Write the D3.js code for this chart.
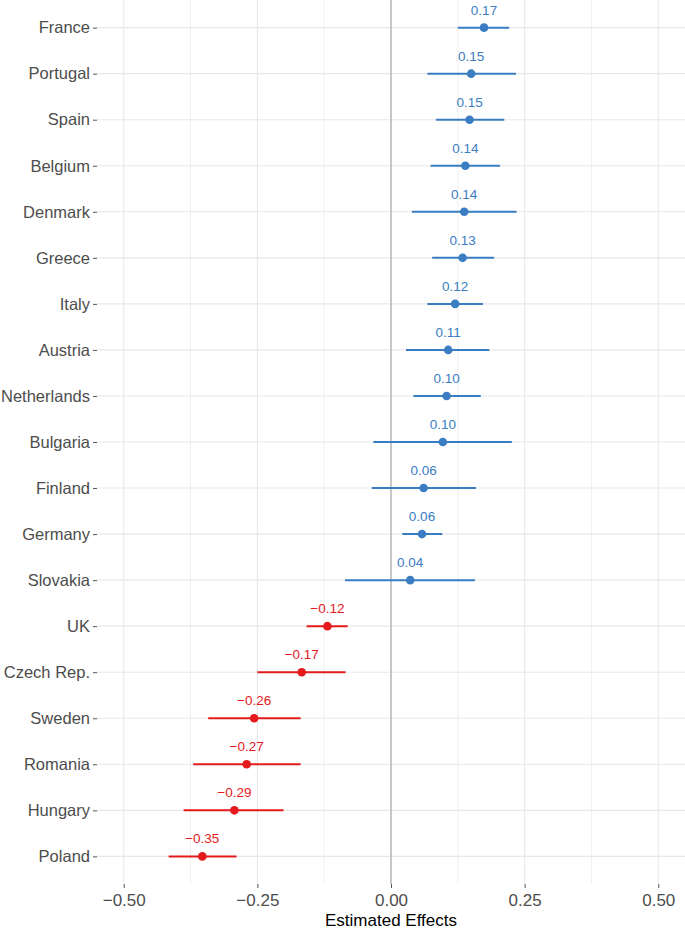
<!DOCTYPE html>
<html><head><meta charset="utf-8">
<script src="https://cdn.jsdelivr.net/npm/d3@7"></script>
<style>body{margin:0;background:#fff}svg{display:block}text{font-family:"Liberation Sans",Arial,Helvetica,sans-serif}</style>
</head><body>
<script>
const countries = ["France","Portugal","Spain","Belgium","Denmark","Greece","Italy","Austria","Netherlands","Bulgaria","Finland","Germany","Slovakia","UK","Czech Rep.","Sweden","Romania","Hungary","Poland"];
const estimates = [0.174,0.150,0.147,0.139,0.137,0.134,0.120,0.107,0.104,0.097,0.061,0.058,0.036,-0.119,-0.167,-0.256,-0.270,-0.293,-0.353];
const lower = [0.125,0.068,0.084,0.074,0.039,0.077,0.068,0.028,0.042,-0.033,-0.036,0.021,-0.086,-0.158,-0.250,-0.342,-0.370,-0.388,-0.416];
const upper = [0.221,0.234,0.212,0.204,0.235,0.193,0.172,0.184,0.168,0.226,0.159,0.096,0.157,-0.081,-0.085,-0.169,-0.169,-0.201,-0.289];
const labels = ["0.17","0.15","0.15","0.14","0.14","0.13","0.12","0.11","0.10","0.10","0.06","0.06","0.04","−0.12","−0.17","−0.26","−0.27","−0.29","−0.35"];
const xTicks = [-0.5,-0.25,0,0.25,0.5];
const xTickLabels = ["−0.50","−0.25","0.00","0.25","0.50"];
const xMinor = [-0.375,-0.125,0.125,0.375];

const W=685,H=930;
const pL=97,pR=685,pT=0,pB=884;
const svg=d3.select("body").append("svg").attr("width",W).attr("height",H);
const x=d3.scaleLinear().domain([-0.55,0.55]).range([pL,pR]);
const y=d3.scalePoint().domain(countries).range([pT,pB]).padding(0.6);
const blue="#3a7dc2", red="#e41a1c";
const col=i=>estimates[i]>=0?blue:red;

// grid
svg.append("g").selectAll("line").data(xMinor).join("line")
  .attr("x1",d=>x(d)).attr("x2",d=>x(d)).attr("y1",pT).attr("y2",pB)
  .attr("stroke","#f0f0f0").attr("stroke-width",1);
svg.append("g").selectAll("line").data(xTicks).join("line")
  .attr("x1",d=>x(d)).attr("x2",d=>x(d)).attr("y1",pT).attr("y2",pB)
  .attr("stroke","#e8e8e8").attr("stroke-width",1.1);
svg.append("g").selectAll("line").data(countries).join("line")
  .attr("x1",pL).attr("x2",pR).attr("y1",d=>y(d)).attr("y2",d=>y(d))
  .attr("stroke","#e8e8e8").attr("stroke-width",1.1);
// zero line
svg.append("line").attr("x1",x(0)).attr("x2",x(0)).attr("y1",pT).attr("y2",pB)
  .attr("stroke","#aaaaaa").attr("stroke-width",1.2);

// axes
const xAxis=d3.axisBottom(x).tickValues(xTicks).tickFormat((d,i)=>xTickLabels[i]).tickSize(4).tickPadding(6);
const gx=svg.append("g").attr("transform",`translate(0,${pB})`).call(xAxis);
gx.select(".domain").remove();
gx.selectAll(".tick line").attr("stroke","#555");
gx.selectAll(".tick text").attr("fill","#4d4d4d").style("font-size","17px").style("font-family","'Liberation Sans',Arial,sans-serif");

const yAxis=d3.axisLeft(y).tickSize(4).tickPadding(3);
const gy=svg.append("g").attr("transform",`translate(${pL},0)`).call(yAxis);
gy.select(".domain").remove();
gy.selectAll(".tick line").attr("stroke","#555");
gy.selectAll(".tick text").attr("fill","#4d4d4d").style("font-size","16.5px").style("font-family","'Liberation Sans',Arial,sans-serif");

svg.append("text").attr("x",(pL+pR)/2).attr("y",926).attr("text-anchor","middle")
  .attr("fill","#000").style("font-size","17px").text("Estimated Effects");

// error bars
const idx=d3.range(countries.length);
svg.append("g").selectAll("line").data(idx).join("line")
  .attr("x1",i=>x(lower[i])).attr("x2",i=>x(upper[i]))
  .attr("y1",i=>y(countries[i])).attr("y2",i=>y(countries[i]))
  .attr("stroke",col).attr("stroke-width",2);
svg.append("g").selectAll("circle").data(idx).join("circle")
  .attr("cx",i=>x(estimates[i])).attr("cy",i=>y(countries[i])).attr("r",4.3)
  .attr("fill",col);
svg.append("g").selectAll("text").data(idx).join("text")
  .attr("x",i=>x(estimates[i])).attr("y",i=>y(countries[i])-13)
  .attr("text-anchor","middle").attr("fill",col).style("font-size","13.5px")
  .text(i=>labels[i]);
</script>
</body></html>
